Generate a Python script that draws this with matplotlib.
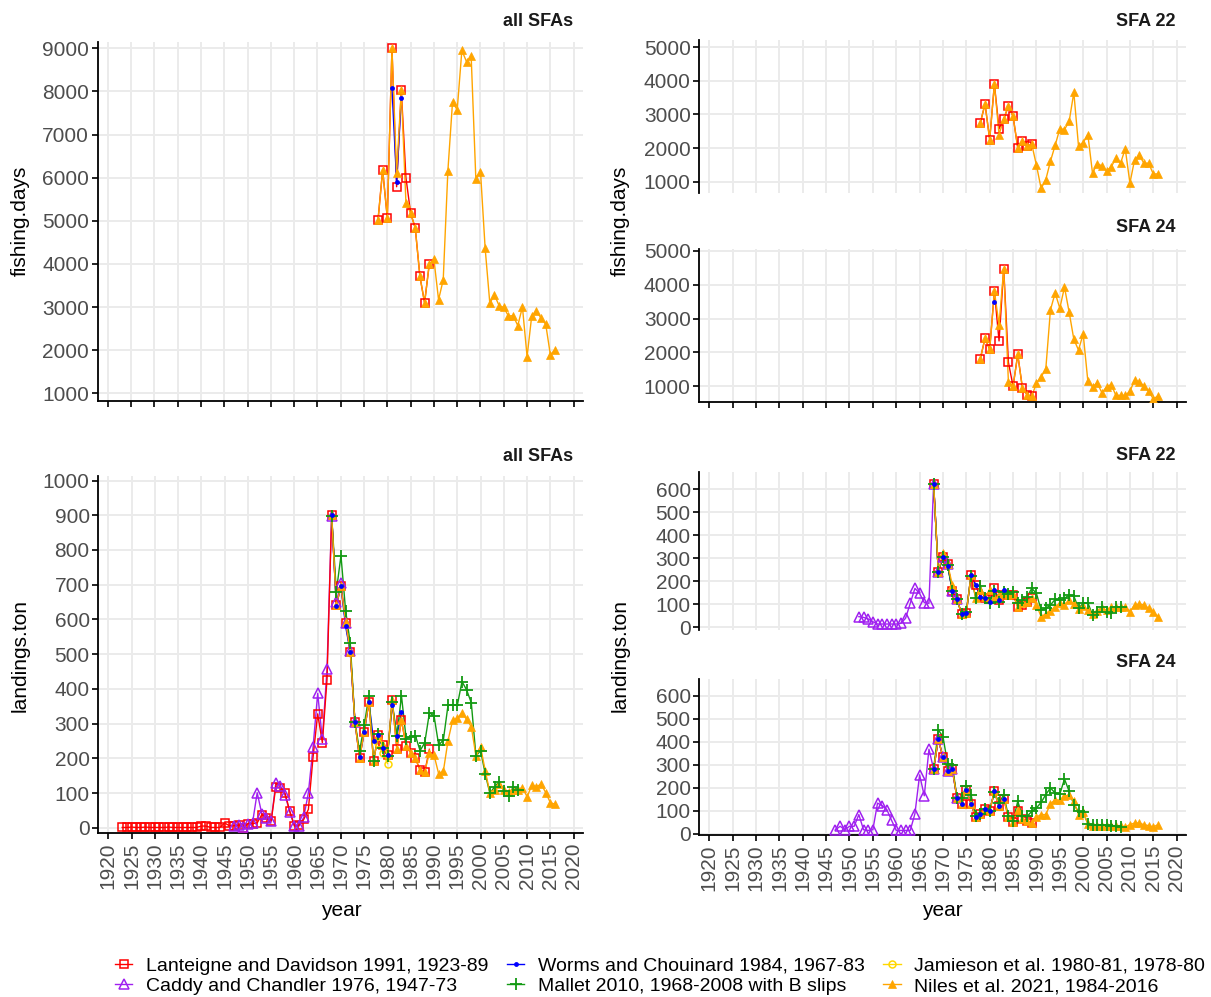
import matplotlib
matplotlib.use("Agg")
import matplotlib.pyplot as plt
from matplotlib.lines import Line2D

plt.rcParams["font.family"] = ["Liberation Sans", "DejaVu Sans"]

W, H = 1211, 997

# ---------------- fishing.days ----------------
# all SFAs
fd_all_lant_years = list(range(1978, 1990))
fd_all_lant = [5010, 6180, 5070, 9000, 5790, 8030, 6000, 5180, 4830, 3710, 3100, 3990]
fd_all_worms_years = [1981, 1982, 1983]
fd_all_worms = [8070, 5910, 7840]
fd_all_niles_years = list(range(1978, 2017))
fd_all_niles = [5010, 6180, 5070, 9000, 6100, 8030, 5410, 5180, 4830, 3710,
                3100, 3990, 4110, 3170, 3630, 6160, 7760, 7570, 8950, 8690,
                8810, 5970, 6140, 4360, 3090, 3280, 3030, 2990, 2790, 2800,
                2570, 3000, 1850, 2800, 2910, 2740, 2600, 1890, 2010]

# SFA 22
fd_22_lant_years = list(range(1978, 1990))
fd_22_lant = [2750, 3310, 2250, 3900, 2570, 2860, 3250, 2940, 2010, 2210, 2060, 2110]
fd_22_niles_years = list(range(1978, 2017))
fd_22_niles = [2750, 3310, 2250, 3900, 2400, 2860, 3250, 2940, 2010, 2210,
               2060, 2110, 1490, 800, 1060, 1610, 2080, 2570, 2550, 2790,
               3650, 2060, 2160, 2400, 1250, 1540, 1470, 1320, 1440, 1700,
               1550, 1980, 960, 1650, 1780, 1550, 1550, 1230, 1230]

# SFA 24
fd_24_lant_years = list(range(1978, 1990))
fd_24_lant = [1820, 2420, 2090, 3810, 2340, 4480, 1710, 1000, 1940, 950, 750, 700]
fd_24_worms_years = [1981]
fd_24_worms = [3490]
fd_24_niles_years = list(range(1978, 2017))
fd_24_niles = [1820, 2420, 2090, 3810, 2820, 4480, 1130, 1000, 1940, 950,
               750, 700, 1100, 1280, 1510, 3260, 3760, 3310, 3930, 3190,
               2390, 2070, 2550, 1150, 980, 1100, 810, 980, 1050, 730,
               730, 730, 850, 1180, 1130, 1010, 850, 630, 710]

# ---------------- landings.ton ----------------
# all SFAs
ld_all_lant_years = list(range(1923, 1990))
ld_all_lant = [1, 1, 2, 1, 1, 2, 1, 1, 1, 1, 2, 1, 1, 1, 1, 1, 1,
               5, 5, 1, 1, 1, 14, 6, 6, 8, 0, 12, 12, 14, 38, 27, 19,
               118, 116, 99, 48, 6, 8, 24, 53, 203, 328, 245, 426,
               900, 642, 695, 591, 507, 305, 200, 277, 363, 192, 267,
               238, 209, 368, 228, 310, 235, 216, 200, 166, 161, 226]
ld_all_caddy_years = list(range(1947, 1974))
ld_all_caddy = [6, 8, 2, 12, 14, 101, 40, 28, 20, 128, 120, 93, 46, 5, 5,
                30, 101, 232, 387, 255, 457, 899, 650, 705, 590, 508, 306]
ld_all_worms_years = list(range(1968, 1984))
ld_all_worms = [900, 640, 695, 580, 507, 305, 203, 275, 363, 251, 267, 229,
                209, 355, 265, 332]
ld_all_jam_years = [1978, 1979, 1980]
ld_all_jam = [243, 214, 185]
ld_all_mallet_years = list(range(1968, 2009))
ld_all_mallet = [899, 680, 784, 625, 531, 305, 221, 296, 380, 192, 269, 231,
                 207, 363, 265, 380, 257, 262, 265, 222, 245, 331, 322, 238,
                 253, 353, 353, 353, 421, 397, 360, 207, 222, 155, 99, 118,
                 133, 106, 91, 118, 110]
ld_all_niles_years = list(range(1968, 2017))
ld_all_niles = [900, 642, 695, 594, 507, 305, 200, 277, 363, 192, 267, 238,
                209, 368, 228, 310, 235, 216, 200, 166, 161, 216, 209, 155,
                163, 251, 310, 315, 331, 312, 291, 207, 233, 164, 101, 110,
                125, 110, 104, 110, 110, 116, 89, 123, 118, 126, 101, 72, 68]

# SFA 22
ld_22_caddy_years = list(range(1952, 1974))
ld_22_caddy = [45, 42, 35, 23, 13, 13, 13, 13, 13, 16, 38, 103, 168, 146,
               106, 103, 622, 241, 303, 274, 158, 120]
ld_22_lant_years = list(range(1968, 1990))
ld_22_lant = [622, 241, 303, 274, 158, 120, 57, 62, 226, 183, 130, 125, 120,
              168, 117, 139, 139, 139, 88, 96, 110, 125]
ld_22_worms_years = list(range(1968, 1984))
ld_22_worms = [622, 241, 303, 267, 158, 120, 57, 62, 226, 183, 132, 125, 110,
               161, 117, 161]
ld_22_mallet_years = list(range(1968, 2009))
ld_22_mallet = [622, 241, 303, 270, 158, 120, 57, 67, 222, 125, 178, 125, 106,
                158, 110, 154, 143, 154, 103, 117, 132, 168, 146, 74, 81, 96,
                120, 117, 125, 139, 135, 81, 103, 106, 52, 67, 86, 67, 59, 88,
                88]
ld_22_niles_years = list(range(1968, 2017))
ld_22_niles = [622, 241, 323, 274, 183, 120, 57, 62, 226, 128, 161, 130, 160,
               125, 140, 150, 139, 143, 86, 103, 110, 125, 96, 45, 57, 71, 88,
               103, 96, 117, 100, 77, 91, 74, 57, 71, 81, 74, 86, 88, 88, 88,
               67, 96, 100, 96, 81, 67, 45]

# SFA 24
ld_24_caddy_years = list(range(1947, 1974))
ld_24_caddy = [17, 32, 17, 32, 32, 83, 17, 14, 17, 133, 122, 104, 58, 14, 14,
               14, 14, 87, 256, 165, 368, 281, 412, 333, 275, 281, 155]
ld_24_lant_years = list(range(1968, 1990))
ld_24_lant = [281, 412, 333, 275, 281, 155, 129, 191, 129, 71, 87, 107, 100,
              184, 119, 152, 71, 49, 97, 64, 54, 46]
ld_24_worms_years = list(range(1968, 1984))
ld_24_worms = [281, 412, 333, 275, 281, 155, 129, 191, 129, 71, 87, 107, 100,
               184, 119, 152]
ld_24_mallet_years = list(range(1968, 2009))
ld_24_mallet = [281, 452, 423, 304, 300, 155, 155, 209, 170, 75, 87, 107, 100,
                180, 133, 170, 75, 55, 141, 78, 75, 97, 112, 136, 170, 199,
                177, 172, 238, 184, 126, 97, 93, 43, 39, 39, 36, 36, 32, 32,
                28]
ld_24_niles_years = list(range(1968, 2017))
ld_24_niles = [281, 412, 333, 275, 281, 155, 129, 191, 129, 71, 87, 107, 100,
               184, 119, 152, 71, 49, 101, 64, 54, 46, 72, 83, 83, 130, 148,
               145, 162, 170, 141, 83, 93, 43, 35, 35, 35, 35, 35, 35, 35, 29,
               39, 46, 46, 39, 35, 29, 39]

LABELS = {
    "lant": "Lanteigne and Davidson 1991, 1923-89",
    "caddy": "Caddy and Chandler 1976, 1947-73",
    "worms": "Worms and Chouinard 1984, 1967-83",
    "mallet": "Mallet 2010, 1968-2008 with B slips",
    "jam": "Jamieson et al. 1980-81, 1978-80",
    "niles": "Niles et al. 2021, 1984-2016",
}

COLORS = {
    "caddy": "#A020F0",
    "lant": "#FF0000",
    "niles": "#FFA500",
    "jam": "#FFD700",
    "mallet": "#139A13",
    "worms": "#0000FF",
}
MARKERS = {
    "caddy": dict(marker="^", mfc="none", ms=6.5, mew=1.1),
    "lant": dict(marker="s", mfc="none", ms=5.5, mew=1.1),
    "niles": dict(marker="^", mfc="#FFA500", ms=5.5, mew=0.5),
    "jam": dict(marker="o", mfc="none", ms=5, mew=1.1),
    "mallet": dict(marker="+", ms=8, mew=1.3),
    "worms": dict(marker="o", mfc="#0000FF", ms=3.5, mew=0),
}
# lines first (all sources), then points on top, like geom_line + geom_point
LINE_ORDER = ["caddy", "lant", "worms", "jam", "mallet", "niles"]
POINT_ORDER = ["lant", "caddy", "niles", "jam", "mallet", "worms"]
LEGEND_ORDER = ["lant", "caddy", "worms", "mallet", "jam", "niles"]


def rect(l, t, r, b):
    return [l / W, 1 - b / H, (r - l) / W, (b - t) / H]


def style_axis(ax, ylim, yticks, show_x_axis, show_x_labels):
    ax.set_xlim(1917.8, 2022)
    ax.set_ylim(*ylim)
    ax.set_xticks(range(1920, 2021, 5))
    ax.set_yticks(yticks)
    ax.grid(True, color="#EBEBEB", lw=1.4)
    ax.set_axisbelow(True)
    for s in ["top", "right"]:
        ax.spines[s].set_visible(False)
    ax.spines["left"].set_linewidth(1.3)
    ax.spines["bottom"].set_linewidth(1.3)
    ax.spines["bottom"].set_visible(show_x_axis)
    ax.tick_params(axis="y", length=4, width=1.2, labelsize=15,
                   labelcolor="#4D4D4D", pad=2)
    ax.tick_params(axis="x", length=4 if show_x_axis else 0, width=1.2,
                   labelsize=15, labelcolor="#4D4D4D", labelrotation=90,
                   labelbottom=show_x_labels, pad=3)


def draw(ax, series):
    for key in LINE_ORDER:
        if key in series:
            yrs, vals = series[key]
            ax.plot(yrs, vals, lw=1.0, color=COLORS[key], zorder=2)
    for key in POINT_ORDER:
        if key in series:
            yrs, vals = series[key]
            ax.plot(yrs, vals, ls="none", color=COLORS[key], zorder=3,
                    **MARKERS[key])


def main():
    fig = plt.figure(figsize=(W / 100, H / 100), dpi=100)

    panels = [
        (rect(97.5, 41.7, 583, 401), (821, 9153), range(1000, 9001, 1000), True, False,
         {"lant": (fd_all_lant_years, fd_all_lant),
          "worms": (fd_all_worms_years, fd_all_worms),
          "niles": (fd_all_niles_years, fd_all_niles)},
         "all SFAs", 573, 22),
        (rect(699, 40, 1186, 193.3), (656, 5208), range(1000, 5001, 1000), False, False,
         {"lant": (fd_22_lant_years, fd_22_lant),
          "niles": (fd_22_niles_years, fd_22_niles)},
         "SFA 22", 1175, 21),
        (rect(699, 249, 1186, 402), (535, 5059), range(1000, 5001, 1000), True, False,
         {"lant": (fd_24_lant_years, fd_24_lant),
          "worms": (fd_24_worms_years, fd_24_worms),
          "niles": (fd_24_niles_years, fd_24_niles)},
         "SFA 24", 1175, 228),
        (rect(98, 476, 583, 833), (-15, 1013), range(0, 1001, 100), True, True,
         {"lant": (ld_all_lant_years, ld_all_lant),
          "caddy": (ld_all_caddy_years, ld_all_caddy),
          "worms": (ld_all_worms_years, ld_all_worms),
          "jam": (ld_all_jam_years, ld_all_jam),
          "mallet": (ld_all_mallet_years, ld_all_mallet),
          "niles": (ld_all_niles_years, ld_all_niles)},
         "all SFAs", 573, 456),
        (rect(699, 472, 1186, 630), (-13, 674), range(0, 601, 100), False, False,
         {"caddy": (ld_22_caddy_years, ld_22_caddy),
          "lant": (ld_22_lant_years, ld_22_lant),
          "worms": (ld_22_worms_years, ld_22_worms),
          "mallet": (ld_22_mallet_years, ld_22_mallet),
          "niles": (ld_22_niles_years, ld_22_niles)},
         "SFA 22", 1175, 455),
        (rect(699, 679, 1186, 835), (-6, 674), range(0, 601, 100), True, True,
         {"caddy": (ld_24_caddy_years, ld_24_caddy),
          "lant": (ld_24_lant_years, ld_24_lant),
          "worms": (ld_24_worms_years, ld_24_worms),
          "mallet": (ld_24_mallet_years, ld_24_mallet),
          "niles": (ld_24_niles_years, ld_24_niles)},
         "SFA 24", 1175, 662),
    ]

    for pos, ylim, yticks, show_x, show_lab, series, title, tx, ty in panels:
        ax = fig.add_axes(pos)
        draw(ax, series)
        style_axis(ax, ylim, list(yticks), show_x, show_lab)
        fig.text(tx / W, 1 - ty / H, title, ha="right", va="center",
                 fontsize=13, fontweight="bold", color="#1A1A1A")

    # axis titles
    for x, y, txt in [(20, 221, "fishing.days"), (620, 221, "fishing.days"),
                      (20, 655, "landings.ton"), (620, 655, "landings.ton")]:
        fig.text(x / W, 1 - y / H, txt, rotation=90, ha="center", va="center",
                 fontsize=15)
    for x in (341, 942):
        fig.text(x / W, 1 - 910 / H, "year", ha="center", va="center", fontsize=15)

    # legend
    handles = []
    for key in LEGEND_ORDER:
        handles.append(Line2D([], [], lw=1.0, color=COLORS[key],
                              label=LABELS[key], **MARKERS[key]))
    fig.legend(handles=handles, ncol=3, loc="center",
               bbox_to_anchor=(660 / W, 1 - 976 / H), frameon=False,
               fontsize=14, handlelength=0.9, handletextpad=0.7,
               columnspacing=0.95, labelspacing=0.15, borderpad=0)

    fig.savefig("out.png", dpi=100)


if __name__ == "__main__":
    main()
